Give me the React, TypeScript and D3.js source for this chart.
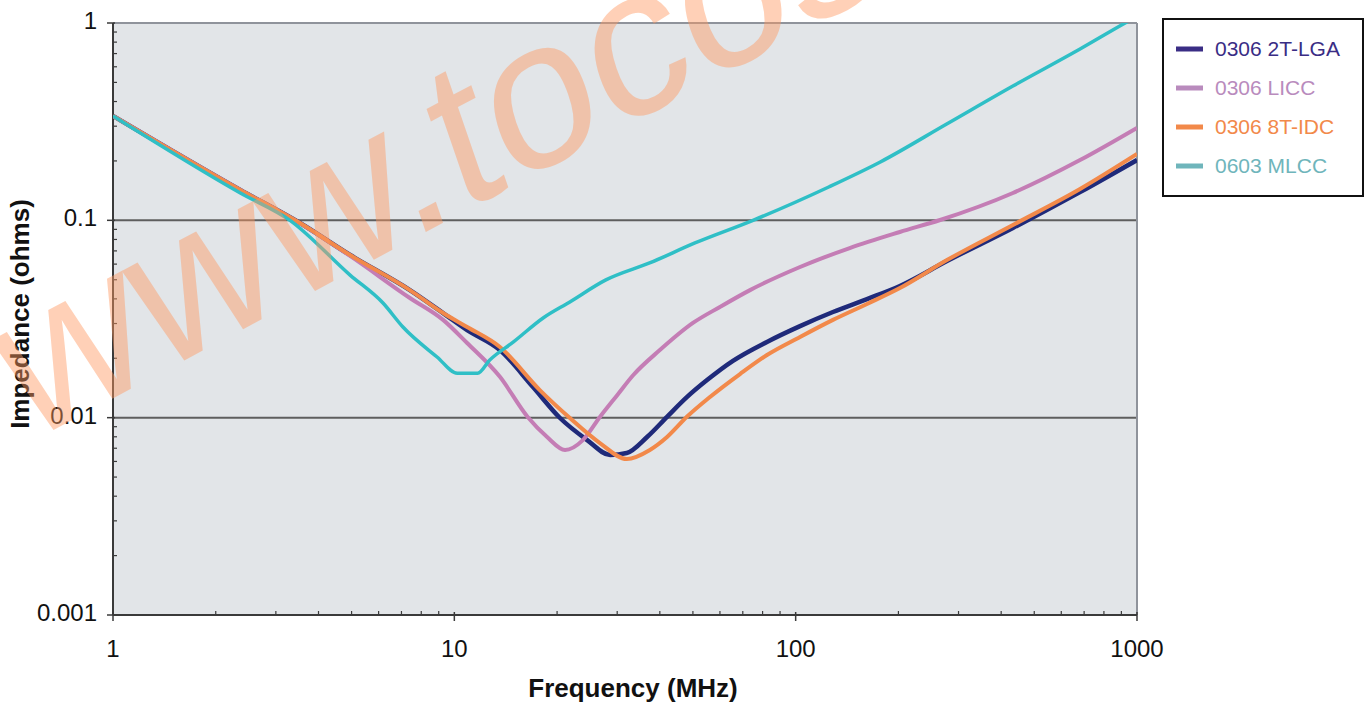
import React from 'react';
import * as d3 from 'd3';

const W = 1366;
const H = 702;
const PLOT = { left: 113, right: 1137, top: 23, bottom: 615 };

// 0306 2T-LGA
const lgaFreq = [1, 2.36, 3.53, 4.95, 7.41, 9.27, 10.9, 13.6, 17.0, 20.4, 24.5, 28.6, 32.0, 36.7, 42.0, 48.0, 55.0, 65.5, 82.4, 103, 128.6, 161.8, 202, 277.5, 433, 681, 1000];
const lgaZ = [0.338, 0.1425, 0.0969, 0.0667, 0.0443, 0.0339, 0.0278, 0.022, 0.0143, 0.00996, 0.0077, 0.00647, 0.00662, 0.00798, 0.0101, 0.0127, 0.0155, 0.0194, 0.0242, 0.0291, 0.0343, 0.0399, 0.0465, 0.0622, 0.0915, 0.139, 0.202];

// 0306 LICC
const liccFreq = [1, 2.36, 3.53, 4.95, 7.41, 9.27, 10.9, 13.6, 16.4, 18.7, 21.1, 23.8, 26.7, 30.0, 33.4, 40.0, 50.0, 60.0, 73.5, 103, 144, 202, 265, 433, 681, 1000];
const liccZ = [0.338, 0.1425, 0.0965, 0.066, 0.0404, 0.0313, 0.0239, 0.0161, 0.01008, 0.00798, 0.00686, 0.0077, 0.01008, 0.013, 0.0164, 0.022, 0.0302, 0.0364, 0.0443, 0.058, 0.0724, 0.0873, 0.1004, 0.1376, 0.202, 0.294];

// 0306 8T-IDC
const idcFreq = [1, 2.36, 3.53, 4.95, 7.41, 9.27, 10.9, 13.6, 17.8, 21.8, 26.7, 32.0, 37.4, 42.0, 48.0, 56.1, 68.7, 82.4, 103, 128.6, 161.8, 202, 277.5, 433, 681, 1000];
const idcZ = [0.338, 0.1425, 0.0969, 0.0667, 0.0443, 0.0339, 0.0288, 0.0228, 0.0138, 0.00996, 0.00744, 0.00617, 0.00686, 0.00798, 0.0101, 0.01273, 0.01664, 0.02077, 0.02564, 0.0313, 0.0377, 0.0454, 0.0629, 0.0947, 0.1441, 0.2169];

// 0603 MLCC
const mlccFreq = [1, 2.36, 3.3, 4.95, 6.18, 7.07, 8.9, 10.2, 11.7, 12.7, 14.9, 18.2, 21.8, 27.8, 37.5, 50.7, 75.0, 125, 177, 277, 433, 681, 923, 1000];
const mlccZ = [0.338, 0.1376, 0.1, 0.0528, 0.0381, 0.0288, 0.0203, 0.0168, 0.0168, 0.0196, 0.0242, 0.032, 0.0386, 0.0499, 0.061, 0.0768, 0.1, 0.1476, 0.1976, 0.3077, 0.4794, 0.7382, 1.0, 1.08];

const seriesNames = ['0306 2T-LGA', '0306 LICC', '0306 8T-IDC', '0603 MLCC'];
const lineColors = ['#1f2a7a', '#c47db5', '#f2894a', '#2fbfc6'];
const legendColors = ['#3a2d85', '#b98bbd', '#f2894a', '#6fb5bb'];
const lineWidths = [4.5, 4, 4, 3.5];

const xMajor = [1, 10, 100, 1000];
const xMajorLabels = ['1', '10', '100', '1000'];
const yMajor = [0.001, 0.01, 0.1, 1];
const yMajorLabels = ['0.001', '0.01', '0.1', '1'];
const yGrid = [0.01, 0.1];

const xTitle = 'Frequency (MHz)';
const yTitle = 'Impedance (ohms)';
const watermark = 'www.tocos';

const FONT = '"Liberation Sans", Arial, Helvetica, sans-serif';

export default function App() {
  const x = d3.scaleLog().domain([1, 1000]).range([PLOT.left, PLOT.right]);
  const y = d3.scaleLog().domain([0.001, 1]).range([PLOT.bottom, PLOT.top]);

  const series = [
    lgaFreq.map((f, i) => [f, lgaZ[i]]),
    liccFreq.map((f, i) => [f, liccZ[i]]),
    idcFreq.map((f, i) => [f, idcZ[i]]),
    mlccFreq.map((f, i) => [f, mlccZ[i]]),
  ];

  const line = d3
    .line<number[]>()
    .x((d) => x(d[0]))
    .y((d) => y(d[1]))
    .curve(d3.curveMonotoneX);

  const minorX: number[] = [];
  [1, 10, 100].forEach((d) => {
    for (let k = 2; k <= 9; k++) minorX.push(d * k);
  });
  const minorY: number[] = [];
  [0.001, 0.01, 0.1].forEach((d) => {
    for (let k = 2; k <= 9; k++) minorY.push(d * k);
  });

  const legendX = 1163;
  const legendY = 19;
  const rowY = [49, 88, 127, 166];

  return (
    <svg
      width={W}
      height={H}
      style={{ position: 'absolute', left: 0, top: 0, background: '#fff' }}
      fontFamily={FONT}
    >
      <defs>
        <clipPath id="plotClip">
          <rect x={PLOT.left} y={PLOT.top} width={PLOT.right - PLOT.left} height={PLOT.bottom - PLOT.top} />
        </clipPath>
      </defs>
      <rect x={PLOT.left} y={PLOT.top} width={PLOT.right - PLOT.left} height={PLOT.bottom - PLOT.top} fill="#e2e5e8" />

      {yGrid.map((v) => (
        <line key={v} x1={PLOT.left} x2={PLOT.right} y1={y(v)} y2={y(v)} stroke="#5e5e5e" strokeWidth={2} />
      ))}

      {/* frame */}
      <line x1={PLOT.left} x2={PLOT.right} y1={PLOT.top} y2={PLOT.top} stroke="#8f939b" strokeWidth={2} />
      <line x1={PLOT.right} x2={PLOT.right} y1={PLOT.top} y2={PLOT.bottom} stroke="#8f939b" strokeWidth={2} />
      <line x1={PLOT.left} x2={PLOT.left} y1={PLOT.top} y2={PLOT.bottom} stroke="#3a3a3a" strokeWidth={2} />
      <line x1={PLOT.left} x2={PLOT.right} y1={PLOT.bottom} y2={PLOT.bottom} stroke="#3a3a3a" strokeWidth={2} />

      {/* y ticks */}
      {yMajor.map((v) => (
        <line key={'ym' + v} x1={PLOT.left - 6} x2={PLOT.left + 2} y1={y(v)} y2={y(v)} stroke="#3a3a3a" strokeWidth={1.5} />
      ))}
      {minorY.map((v) => (
        <line key={'yn' + v} x1={PLOT.left} x2={PLOT.left + 4} y1={y(v)} y2={y(v)} stroke="#3a3a3a" strokeWidth={1.2} />
      ))}
      {/* x ticks */}
      {xMajor.map((v) => (
        <line key={'xm' + v} x1={x(v)} x2={x(v)} y1={PLOT.bottom - 3} y2={PLOT.bottom + 6} stroke="#3a3a3a" strokeWidth={1.5} />
      ))}
      {minorX.map((v) => (
        <line key={'xn' + v} x1={x(v)} x2={x(v)} y1={PLOT.bottom - 4} y2={PLOT.bottom} stroke="#3a3a3a" strokeWidth={1.2} />
      ))}

      {/* tick labels */}
      {yMajor.map((v, i) => (
        <text key={'yl' + v} x={97} y={y(v) + 6} textAnchor="end" fontSize={24} fill="#111">
          {yMajorLabels[i]}
        </text>
      ))}
      {xMajor.map((v, i) => (
        <text key={'xl' + v} x={x(v)} y={657} textAnchor="middle" fontSize={24} fill="#111">
          {xMajorLabels[i]}
        </text>
      ))}

      {/* axis titles */}
      <text x={633} y={697} textAnchor="middle" fontSize={26} fontWeight="bold" fill="#111">
        {xTitle}
      </text>
      <text
        transform={`translate(29, 314) rotate(-90)`}
        textAnchor="middle"
        fontSize={26}
        fontWeight="bold"
        fill="#111"
      >
        {yTitle}
      </text>

      {/* series */}
      <g clipPath="url(#plotClip)">
        {series.map((s, i) => (
          <path
            key={seriesNames[i]}
            d={line(s) || ''}
            fill="none"
            stroke={lineColors[i]}
            strokeWidth={lineWidths[i]}
            strokeLinejoin="round"
          />
        ))}
      </g>

      {/* legend */}
      <rect x={legendX} y={legendY} width={200} height={177} fill="#fff" stroke="#111" strokeWidth={2} />
      {seriesNames.map((n, i) => (
        <g key={'lg' + n}>
          <line x1={1176} x2={1203} y1={rowY[i]} y2={rowY[i]} stroke={legendColors[i]} strokeWidth={5} />
          <text x={1215} y={rowY[i] + 7} fontSize={21} fill={legendColors[i]}>
            {n}
          </text>
        </g>
      ))}

      {/* watermark */}
      <text
        transform="translate(27, 444) rotate(-28) skewX(-9)"
        fontSize={205}
        fill="rgb(255,153,97)"
        opacity={0.45}
      >
        {watermark}
      </text>
    </svg>
  );
}
